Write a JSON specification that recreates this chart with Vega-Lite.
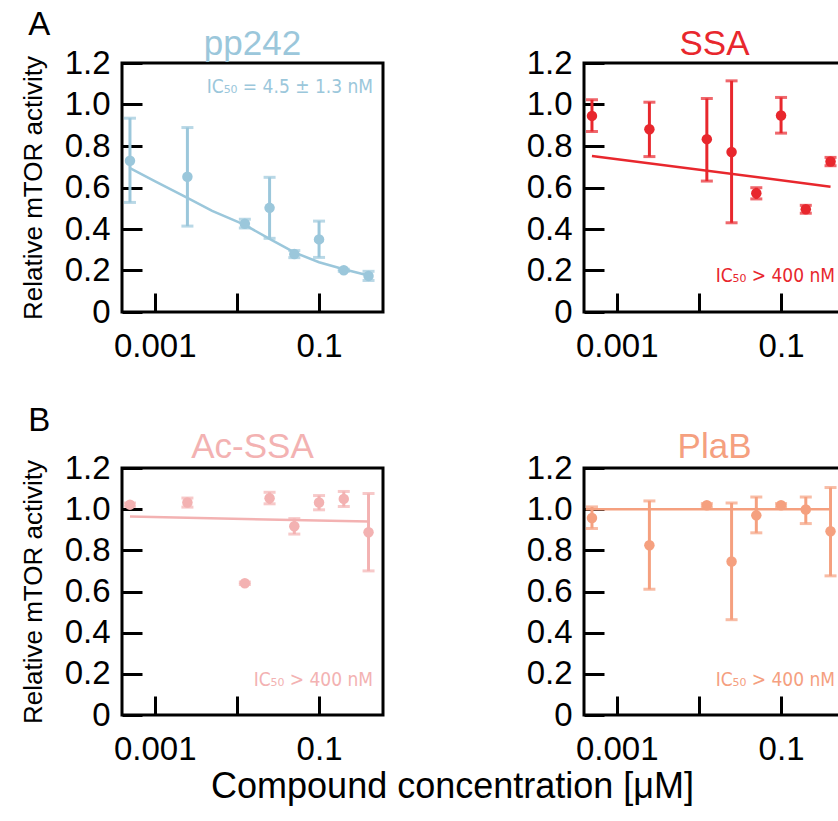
{
  "$schema": "https://vega.github.io/schema/vega-lite/v6.json",
  "background": "white",
  "padding": {"left": 18, "top": 7, "right": 0, "bottom": 5},
  "config": {
    "font": "Liberation Sans",
    "view": {"stroke": "black", "strokeWidth": 3},
    "axis": {"grid": false, "domain": false, "tickColor": "black", "tickWidth": 3, "labelFontSize": 33, "labelColor": "black", "labelFont": "Liberation Sans", "titleFont": "Liberation Sans", "titleFontWeight": "normal", "titleColor": "black"},
    "axisX": {"tickSize": -19, "labelPadding": 37},
    "axisY": {"tickSize": -20, "labelPadding": 32}
  },
  "datasets": {
    "points": [
      {"compound": "pp242", "conc": 0.0005, "mean": 0.729, "lo": 0.528, "hi": 0.934},
      {"compound": "pp242", "conc": 0.0025, "mean": 0.652, "lo": 0.414, "hi": 0.889},
      {"compound": "pp242", "conc": 0.0125, "mean": 0.425, "lo": 0.405, "hi": 0.447},
      {"compound": "pp242", "conc": 0.025, "mean": 0.502, "lo": 0.355, "hi": 0.649},
      {"compound": "pp242", "conc": 0.05, "mean": 0.279, "lo": 0.262, "hi": 0.296},
      {"compound": "pp242", "conc": 0.1, "mean": 0.350, "lo": 0.263, "hi": 0.438},
      {"compound": "pp242", "conc": 0.2, "mean": 0.201, "lo": 0.196, "hi": 0.206},
      {"compound": "pp242", "conc": 0.4, "mean": 0.174, "lo": 0.152, "hi": 0.196},
      {"compound": "SSA", "conc": 0.0005, "mean": 0.945, "lo": 0.870, "hi": 1.023},
      {"compound": "SSA", "conc": 0.0025, "mean": 0.881, "lo": 0.749, "hi": 1.011},
      {"compound": "SSA", "conc": 0.0125, "mean": 0.833, "lo": 0.631, "hi": 1.029},
      {"compound": "SSA", "conc": 0.025, "mean": 0.771, "lo": 0.430, "hi": 1.114},
      {"compound": "SSA", "conc": 0.05, "mean": 0.572, "lo": 0.545, "hi": 0.599},
      {"compound": "SSA", "conc": 0.1, "mean": 0.947, "lo": 0.862, "hi": 1.034},
      {"compound": "SSA", "conc": 0.2, "mean": 0.495, "lo": 0.476, "hi": 0.514},
      {"compound": "SSA", "conc": 0.4, "mean": 0.725, "lo": 0.705, "hi": 0.745},
      {"compound": "Ac-SSA", "conc": 0.0005, "mean": 1.022, "lo": 1.014, "hi": 1.030},
      {"compound": "Ac-SSA", "conc": 0.0025, "mean": 1.032, "lo": 1.010, "hi": 1.054},
      {"compound": "Ac-SSA", "conc": 0.0125, "mean": 0.640, "lo": 0.634, "hi": 0.646},
      {"compound": "Ac-SSA", "conc": 0.025, "mean": 1.053, "lo": 1.026, "hi": 1.082},
      {"compound": "Ac-SSA", "conc": 0.05, "mean": 0.917, "lo": 0.879, "hi": 0.954},
      {"compound": "Ac-SSA", "conc": 0.1, "mean": 1.032, "lo": 0.997, "hi": 1.066},
      {"compound": "Ac-SSA", "conc": 0.2, "mean": 1.050, "lo": 1.013, "hi": 1.086},
      {"compound": "Ac-SSA", "conc": 0.4, "mean": 0.888, "lo": 0.700, "hi": 1.076},
      {"compound": "PlaB", "conc": 0.0005, "mean": 0.957, "lo": 0.906, "hi": 1.011},
      {"compound": "PlaB", "conc": 0.0025, "mean": 0.825, "lo": 0.611, "hi": 1.040},
      {"compound": "PlaB", "conc": 0.0125, "mean": 1.019, "lo": 1.011, "hi": 1.027},
      {"compound": "PlaB", "conc": 0.025, "mean": 0.746, "lo": 0.463, "hi": 1.030},
      {"compound": "PlaB", "conc": 0.05, "mean": 0.970, "lo": 0.885, "hi": 1.059},
      {"compound": "PlaB", "conc": 0.1, "mean": 1.019, "lo": 1.011, "hi": 1.027},
      {"compound": "PlaB", "conc": 0.2, "mean": 0.998, "lo": 0.930, "hi": 1.059},
      {"compound": "PlaB", "conc": 0.4, "mean": 0.893, "lo": 0.676, "hi": 1.105}
    ],
    "fits": [
      {"compound": "pp242", "conc": 0.0005, "value": 0.693},
      {"compound": "pp242", "conc": 0.001, "value": 0.631},
      {"compound": "pp242", "conc": 0.0025, "value": 0.550},
      {"compound": "pp242", "conc": 0.005, "value": 0.487},
      {"compound": "pp242", "conc": 0.0125, "value": 0.420},
      {"compound": "pp242", "conc": 0.025, "value": 0.352},
      {"compound": "pp242", "conc": 0.05, "value": 0.287},
      {"compound": "pp242", "conc": 0.1, "value": 0.240},
      {"compound": "pp242", "conc": 0.2, "value": 0.206},
      {"compound": "pp242", "conc": 0.4, "value": 0.176},
      {"compound": "SSA", "conc": 0.0005, "value": 0.752},
      {"compound": "SSA", "conc": 0.4, "value": 0.604},
      {"compound": "Ac-SSA", "conc": 0.0005, "value": 0.964},
      {"compound": "Ac-SSA", "conc": 0.4, "value": 0.940},
      {"compound": "PlaB", "conc": 0.00042, "value": 1.0},
      {"compound": "PlaB", "conc": 0.4, "value": 1.0}
    ]
  },
  "title": {"text": "Compound concentration [μM]", "orient": "bottom", "anchor": "middle", "fontSize": 36, "fontWeight": "normal", "color": "black", "offset": 2, "dx": 20},
  "columns": 2,
  "bounds": "flush",
  "spacing": {"row": 156, "column": 201},
  "concat": [
    {
      "width": 261, "height": 249,
      "encoding": {
        "x": {"field": "conc", "type": "quantitative", "scale": {"type": "log", "domain": [0.0004, 0.6], "nice": false}, "axis": {"values": [0.001, 0.01, 0.1], "labelExpr": "datum.value < 0.005 ? '0.001' : (datum.value > 0.05 ? '0.1' : '')", "title": null}},
        "y": {"field": "mean", "type": "quantitative", "scale": {"domain": [0, 1.2], "nice": false}, "axis": {"values": [0, 0.2, 0.4, 0.6, 0.8, 1.0, 1.2], "labelExpr": "datum.value == 0 ? '0' : format(datum.value, '.1f')", "title": "Relative mTOR activity", "titleFontSize": 26, "titlePadding": 18}}
      },
      "layer": [
        {"data": {"name": "fits"}, "transform": [{"filter": "datum.compound == 'pp242'"}],
         "mark": {"type": "line", "color": "#9bc7db", "strokeWidth": 2.5},
         "encoding": {"y": {"field": "value", "type": "quantitative", "scale": {"domain": [0, 1.2], "nice": false}, "axis": {"values": [0, 0.2, 0.4, 0.6, 0.8, 1.0, 1.2], "labelExpr": "datum.value == 0 ? '0' : format(datum.value, '.1f')", "title": "Relative mTOR activity", "titleFontSize": 26, "titlePadding": 18}}}},
        {"data": {"name": "points"}, "transform": [{"filter": "datum.compound == 'pp242'"}],
         "mark": {"type": "errorbar", "ticks": true, "size": 12, "thickness": 3, "color": "#9bc7db"},
         "encoding": {"y": {"field": "lo", "type": "quantitative", "scale": {"domain": [0, 1.2], "nice": false}, "axis": {"values": [0, 0.2, 0.4, 0.6, 0.8, 1.0, 1.2], "labelExpr": "datum.value == 0 ? '0' : format(datum.value, '.1f')", "title": "Relative mTOR activity", "titleFontSize": 26, "titlePadding": 18}}, "y2": {"field": "hi"}}},
        {"data": {"name": "points"}, "transform": [{"filter": "datum.compound == 'pp242'"}],
         "mark": {"type": "point", "filled": true, "size": 110, "opacity": 1, "color": "#9bc7db"}},
        {"data": {"name": "points"}, "transform": [{"filter": "datum.compound == 'pp242' && datum.conc == 0.4"}],
         "mark": {"type": "text", "align": "right", "baseline": "alphabetic", "font": "DejaVu Sans Condensed, Liberation Sans, sans-serif", "fontSize": 19, "color": "#9bc7db"},
         "encoding": {"x": {"datum": 0.455, "type": "quantitative"}, "y": {"datum": 1.055, "type": "quantitative"}, "text": {"datum": "IC₅₀ = 4.5 ± 1.3 nM"}}},
        {"data": {"name": "points"}, "transform": [{"filter": "datum.compound == 'pp242' && datum.conc == 0.4"}],
         "mark": {"type": "text", "align": "center", "baseline": "alphabetic", "fontSize": 35, "color": "#9bc7db"},
         "encoding": {"x": {"datum": 0.0155, "type": "quantitative"}, "y": {"datum": 1.24, "type": "quantitative"}, "text": {"datum": "pp242"}}},
        {"data": {"name": "points"}, "transform": [{"filter": "datum.compound == 'pp242' && datum.conc == 0.4"}],
         "mark": {"type": "text", "align": "left", "baseline": "alphabetic", "fontSize": 33, "color": "black"},
         "encoding": {"x": {"datum": 0.000029, "type": "quantitative"}, "y": {"datum": 1.334, "type": "quantitative"}, "text": {"datum": "A"}}}
      ]
    },
    {
      "width": 261, "height": 249,
      "encoding": {
        "x": {"field": "conc", "type": "quantitative", "scale": {"type": "log", "domain": [0.0004, 0.6], "nice": false}, "axis": {"values": [0.001, 0.01, 0.1], "labelExpr": "datum.value < 0.005 ? '0.001' : (datum.value > 0.05 ? '0.1' : '')", "title": null}},
        "y": {"field": "mean", "type": "quantitative", "scale": {"domain": [0, 1.2], "nice": false}, "axis": {"values": [0, 0.2, 0.4, 0.6, 0.8, 1.0, 1.2], "labelExpr": "datum.value == 0 ? '0' : format(datum.value, '.1f')", "title": null}}
      },
      "layer": [
        {"data": {"name": "fits"}, "transform": [{"filter": "datum.compound == 'SSA'"}],
         "mark": {"type": "line", "color": "#e8272d", "strokeWidth": 2.5},
         "encoding": {"y": {"field": "value", "type": "quantitative", "scale": {"domain": [0, 1.2], "nice": false}, "axis": {"values": [0, 0.2, 0.4, 0.6, 0.8, 1.0, 1.2], "labelExpr": "datum.value == 0 ? '0' : format(datum.value, '.1f')", "title": null}}}},
        {"data": {"name": "points"}, "transform": [{"filter": "datum.compound == 'SSA'"}],
         "mark": {"type": "errorbar", "ticks": true, "size": 12, "thickness": 3, "color": "#e8272d"},
         "encoding": {"y": {"field": "lo", "type": "quantitative", "scale": {"domain": [0, 1.2], "nice": false}, "axis": {"values": [0, 0.2, 0.4, 0.6, 0.8, 1.0, 1.2], "labelExpr": "datum.value == 0 ? '0' : format(datum.value, '.1f')", "title": null}}, "y2": {"field": "hi"}}},
        {"data": {"name": "points"}, "transform": [{"filter": "datum.compound == 'SSA'"}],
         "mark": {"type": "point", "filled": true, "size": 110, "opacity": 1, "color": "#e8272d"}},
        {"data": {"name": "points"}, "transform": [{"filter": "datum.compound == 'SSA' && datum.conc == 0.4"}],
         "mark": {"type": "text", "align": "right", "baseline": "alphabetic", "font": "DejaVu Sans Condensed, Liberation Sans, sans-serif", "fontSize": 19, "color": "#e8272d"},
         "encoding": {"x": {"datum": 0.455, "type": "quantitative"}, "y": {"datum": 0.145, "type": "quantitative"}, "text": {"datum": "IC₅₀ > 400 nM"}}},
        {"data": {"name": "points"}, "transform": [{"filter": "datum.compound == 'SSA' && datum.conc == 0.4"}],
         "mark": {"type": "text", "align": "center", "baseline": "alphabetic", "fontSize": 35, "color": "#e8272d"},
         "encoding": {"x": {"datum": 0.0155, "type": "quantitative"}, "y": {"datum": 1.24, "type": "quantitative"}, "text": {"datum": "SSA"}}}
      ]
    },
    {
      "width": 261, "height": 247,
      "encoding": {
        "x": {"field": "conc", "type": "quantitative", "scale": {"type": "log", "domain": [0.0004, 0.6], "nice": false}, "axis": {"values": [0.001, 0.01, 0.1], "labelExpr": "datum.value < 0.005 ? '0.001' : (datum.value > 0.05 ? '0.1' : '')", "title": null}},
        "y": {"field": "mean", "type": "quantitative", "scale": {"domain": [0, 1.2], "nice": false}, "axis": {"values": [0, 0.2, 0.4, 0.6, 0.8, 1.0, 1.2], "labelExpr": "datum.value == 0 ? '0' : format(datum.value, '.1f')", "title": "Relative mTOR activity", "titleFontSize": 26, "titlePadding": 18}}
      },
      "layer": [
        {"data": {"name": "fits"}, "transform": [{"filter": "datum.compound == 'Ac-SSA'"}],
         "mark": {"type": "line", "color": "#f3b2b2", "strokeWidth": 2.5},
         "encoding": {"y": {"field": "value", "type": "quantitative", "scale": {"domain": [0, 1.2], "nice": false}, "axis": {"values": [0, 0.2, 0.4, 0.6, 0.8, 1.0, 1.2], "labelExpr": "datum.value == 0 ? '0' : format(datum.value, '.1f')", "title": "Relative mTOR activity", "titleFontSize": 26, "titlePadding": 18}}}},
        {"data": {"name": "points"}, "transform": [{"filter": "datum.compound == 'Ac-SSA'"}],
         "mark": {"type": "errorbar", "ticks": true, "size": 12, "thickness": 3, "color": "#f3b2b2"},
         "encoding": {"y": {"field": "lo", "type": "quantitative", "scale": {"domain": [0, 1.2], "nice": false}, "axis": {"values": [0, 0.2, 0.4, 0.6, 0.8, 1.0, 1.2], "labelExpr": "datum.value == 0 ? '0' : format(datum.value, '.1f')", "title": "Relative mTOR activity", "titleFontSize": 26, "titlePadding": 18}}, "y2": {"field": "hi"}}},
        {"data": {"name": "points"}, "transform": [{"filter": "datum.compound == 'Ac-SSA'"}],
         "mark": {"type": "point", "filled": true, "size": 110, "opacity": 1, "color": "#f3b2b2"}},
        {"data": {"name": "points"}, "transform": [{"filter": "datum.compound == 'Ac-SSA' && datum.conc == 0.4"}],
         "mark": {"type": "text", "align": "right", "baseline": "alphabetic", "font": "DejaVu Sans Condensed, Liberation Sans, sans-serif", "fontSize": 19, "color": "#f3b2b2"},
         "encoding": {"x": {"datum": 0.455, "type": "quantitative"}, "y": {"datum": 0.14, "type": "quantitative"}, "text": {"datum": "IC₅₀ > 400 nM"}}},
        {"data": {"name": "points"}, "transform": [{"filter": "datum.compound == 'Ac-SSA' && datum.conc == 0.4"}],
         "mark": {"type": "text", "align": "center", "baseline": "alphabetic", "fontSize": 35, "color": "#f3b2b2"},
         "encoding": {"x": {"datum": 0.0155, "type": "quantitative"}, "y": {"datum": 1.25, "type": "quantitative"}, "text": {"datum": "Ac-SSA"}}},
        {"data": {"name": "points"}, "transform": [{"filter": "datum.compound == 'Ac-SSA' && datum.conc == 0.4"}],
         "mark": {"type": "text", "align": "left", "baseline": "alphabetic", "fontSize": 33, "color": "black"},
         "encoding": {"x": {"datum": 0.000029, "type": "quantitative"}, "y": {"datum": 1.38, "type": "quantitative"}, "text": {"datum": "B"}}}
      ]
    },
    {
      "width": 261, "height": 247,
      "encoding": {
        "x": {"field": "conc", "type": "quantitative", "scale": {"type": "log", "domain": [0.0004, 0.6], "nice": false}, "axis": {"values": [0.001, 0.01, 0.1], "labelExpr": "datum.value < 0.005 ? '0.001' : (datum.value > 0.05 ? '0.1' : '')", "title": null}},
        "y": {"field": "mean", "type": "quantitative", "scale": {"domain": [0, 1.2], "nice": false}, "axis": {"values": [0, 0.2, 0.4, 0.6, 0.8, 1.0, 1.2], "labelExpr": "datum.value == 0 ? '0' : format(datum.value, '.1f')", "title": null}}
      },
      "layer": [
        {"data": {"name": "fits"}, "transform": [{"filter": "datum.compound == 'PlaB'"}],
         "mark": {"type": "line", "color": "#f5a07f", "strokeWidth": 2.5},
         "encoding": {"y": {"field": "value", "type": "quantitative", "scale": {"domain": [0, 1.2], "nice": false}, "axis": {"values": [0, 0.2, 0.4, 0.6, 0.8, 1.0, 1.2], "labelExpr": "datum.value == 0 ? '0' : format(datum.value, '.1f')", "title": null}}}},
        {"data": {"name": "points"}, "transform": [{"filter": "datum.compound == 'PlaB'"}],
         "mark": {"type": "errorbar", "ticks": true, "size": 12, "thickness": 3, "color": "#f5a07f"},
         "encoding": {"y": {"field": "lo", "type": "quantitative", "scale": {"domain": [0, 1.2], "nice": false}, "axis": {"values": [0, 0.2, 0.4, 0.6, 0.8, 1.0, 1.2], "labelExpr": "datum.value == 0 ? '0' : format(datum.value, '.1f')", "title": null}}, "y2": {"field": "hi"}}},
        {"data": {"name": "points"}, "transform": [{"filter": "datum.compound == 'PlaB'"}],
         "mark": {"type": "point", "filled": true, "size": 110, "opacity": 1, "color": "#f5a07f"}},
        {"data": {"name": "points"}, "transform": [{"filter": "datum.compound == 'PlaB' && datum.conc == 0.4"}],
         "mark": {"type": "text", "align": "right", "baseline": "alphabetic", "font": "DejaVu Sans Condensed, Liberation Sans, sans-serif", "fontSize": 19, "color": "#f5a07f"},
         "encoding": {"x": {"datum": 0.455, "type": "quantitative"}, "y": {"datum": 0.14, "type": "quantitative"}, "text": {"datum": "IC₅₀ > 400 nM"}}},
        {"data": {"name": "points"}, "transform": [{"filter": "datum.compound == 'PlaB' && datum.conc == 0.4"}],
         "mark": {"type": "text", "align": "center", "baseline": "alphabetic", "fontSize": 35, "color": "#f5a07f"},
         "encoding": {"x": {"datum": 0.0155, "type": "quantitative"}, "y": {"datum": 1.25, "type": "quantitative"}, "text": {"datum": "PlaB"}}}
      ]
    }
  ]
}
